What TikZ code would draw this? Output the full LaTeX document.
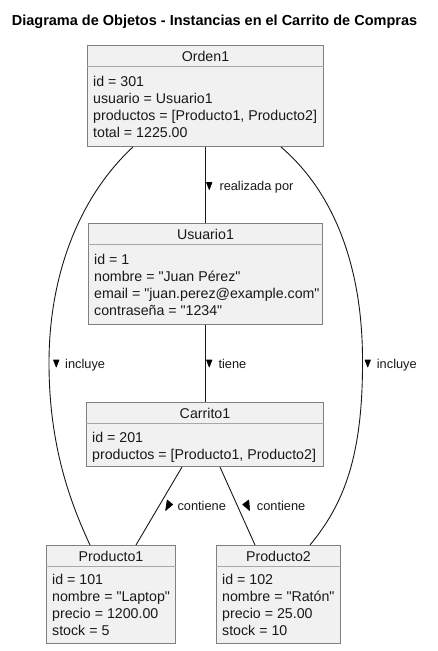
\documentclass[tikz,border=0pt]{standalone}
\usepackage{fontspec}
\setmainfont{Liberation Sans}[Ligatures=TeXOff]
\usetikzlibrary{calc}
\definecolor{boxfill}{HTML}{F1F1F1}
\definecolor{boxline}{HTML}{808080}
\definecolor{divcol}{HTML}{A8A8A8}
\definecolor{edgecol}{HTML}{181818}
\newcommand{\objnode}[6]{%
  \node[objrect, minimum width=#4pt, minimum height=#5pt, anchor=north west] (#1) at (#2,#3) {};
  \draw[divline] ([yshift=-21.5pt]#1.north west) -- ([yshift=-21.5pt]#1.north east);
  \node[hdrtext] (#1-t) at ([yshift=-11pt]#1.north) {#6};}
\begin{document}
\begin{tikzpicture}[x=1pt,y=-1pt,
  objrect/.style={draw=boxline, fill=boxfill, line width=1pt, inner sep=0pt, rectangle},
  divline/.style={draw=divcol, line width=1pt},
  hdrtext/.style={font=\fontsize{14.2}{16}\selectfont, inner sep=0pt, text=black!90},
  attrtext/.style={font=\fontsize{14.2}{16}\selectfont, inner sep=0pt, anchor=base west, text=black!90},
  lbltext/.style={font=\fontsize{12.8}{15}\selectfont, inner sep=0pt, anchor=base west, text=black!90},
  edge/.style={draw=edgecol, line width=0.9pt},
  tri/.style={fill=black, draw=black, line width=0.6pt, line join=round}]
\useasboundingbox[fill=white] (0,0) rectangle (437,651);

% title
\node[font=\bfseries\fontsize{14.5}{16}\selectfont, inner sep=0pt, anchor=base] (title) at (214.5,25.5) {Diagrama de Objetos - Instancias en el Carrito de Compras};

% objects
\objnode{orden}{87}{45}{236}{101}{Orden1}
\foreach \txt [count=\i] in {{id = 301},{usuario = Usuario1},{productos = [Producto1, Producto2]},{total = 1225.00}}
  \node[attrtext] (orden-l\i) at (93,{86+17*(\i-1)}) {\txt};

\objnode{usuario}{88}{223}{234}{100.5}{Usuario1}
\foreach \txt [count=\i] in {{id = 1},{nombre = "Juan Pérez"},{email = "juan.perez@example.com"},{contraseña = "1234"}}
  \node[attrtext] (usuario-l\i) at (94,{264.5+17*(\i-1)}) {\txt};

\objnode{carrito}{86}{402}{237}{64}{Carrito1}
\foreach \txt [count=\i] in {{id = 201},{productos = [Producto1, Producto2]}}
  \node[attrtext] (carrito-l\i) at (92,{442.5+17*(\i-1)}) {\txt};

\objnode{prod1}{46}{545}{129}{98}{Producto1}
\foreach \txt [count=\i] in {{id = 101},{nombre = "Laptop"},{precio = 1200.00},{stock = 5}}
  \node[attrtext] (prod1-l\i) at (52,{584.5+17*(\i-1)}) {\txt};

\objnode{prod2}{216}{545}{124}{98}{Producto2}
\foreach \txt [count=\i] in {{id = 102},{nombre = "Ratón"},{precio = 25.00},{stock = 10}}
  \node[attrtext] (prod2-l\i) at (222,{584.5+17*(\i-1)}) {\txt};

% connectors
\coordinate (lmid) at (49,363);
\coordinate (rmid) at (362.5,360);
\draw[edge] (orden.south) -- (usuario.north);
\draw[edge] (usuario.south) -- (usuario.south |- carrito.north);
\draw[edge] ([xshift=46pt]orden.south west) .. controls (81,195) and (49,272) .. (lmid)
  .. controls (49,445) and (70,502) .. ([xshift=44pt]prod1.north west);
\draw[edge] ([xshift=194pt]orden.south west) .. controls (337,195) and (362.5,272) .. (rmid)
  .. controls (363,458) and (343,505) .. ([xshift=94pt]prod2.north west);
\draw[edge] ([xshift=96pt]carrito.south west) -- ([xshift=90pt]prod1.north west);
\draw[edge] ([xshift=134pt]carrito.south west) -- ([xshift=39pt]prod2.north west);

% labels
\node[lbltext] (lab-real) at (219.3,190.3) {realizada por};
\node[lbltext] (lab-tiene) at (218.3,368) {tiene};
\node[lbltext] (lab-incl1) at (65,368) {incluye};
\node[lbltext] (lab-incl2) at (376.7,368) {incluye};
\node[lbltext] (lab-cont1) at (177.3,510.5) {contiene};
\node[lbltext] (lab-cont2) at (256.7,510.5) {contiene};

% direction triangles
\filldraw[tri] (206.5,182.5) -- (212,182.5) -- (209.25,189.5) -- cycle;
\filldraw[tri] (206.5,360) -- (212,360) -- (209.25,367) -- cycle;
\filldraw[tri] (53.5,360) -- (59,360) -- (56.25,367) -- cycle;
\filldraw[tri] (365,360) -- (370.5,360) -- (367.75,367) -- cycle;
\filldraw[tri] (167.2,500) -- (172.7,504.5) -- (165.6,510.5) -- cycle;
\filldraw[tri] (248.8,500) -- (242.7,504.5) -- (249.6,510.5) -- cycle;
\end{tikzpicture}
\end{document}
